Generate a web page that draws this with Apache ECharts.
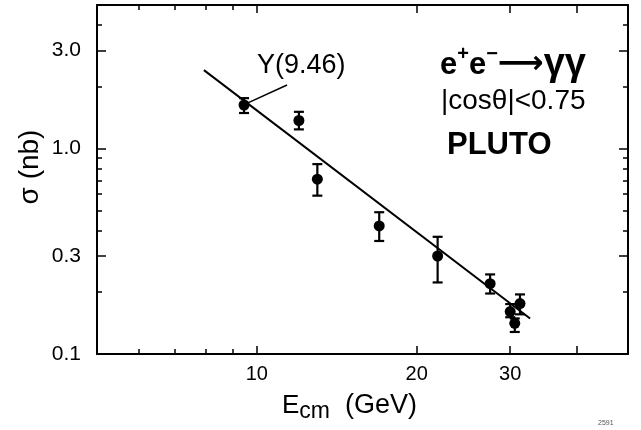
<!DOCTYPE html>
<html>
<head>
<meta charset="UTF-8">
<title>PLUTO e+e- -> gamma gamma</title>
<script src="https://cdn.jsdelivr.net/npm/echarts@6/dist/echarts.min.js"></script>
<style>
html, body { margin: 0; padding: 0; background: #fff; }
#main { width: 641px; height: 430px; }
</style>
</head>
<body>
<div id="main"></div>
<script>
// measured cross sections: E_cm (GeV), sigma (nb), error bar ends
var energy = [9.46, 12.0, 13.0, 17.0, 21.9, 27.5, 30.0, 30.6, 31.3];
var sigma = [1.63, 1.37, 0.71, 0.42, 0.30, 0.22, 0.161, 0.141, 0.176];
var sigmaLow = [1.49, 1.24, 0.59, 0.355, 0.223, 0.197, 0.151, 0.128, 0.156];
var sigmaHigh = [1.76, 1.51, 0.84, 0.49, 0.372, 0.244, 0.175, 0.149, 0.195];

// QED 1/s line, its two ends
var fitE = [7.95, 32.7];
var fitSigma = [2.41, 0.149];

// ticks and labels
var xMajor = [10, 20, 30, 40];
var xMinor = [6, 7, 8, 9];
var xLabels = [10, 20, 30];
var yMajor = [0.3, 1, 3];
var yMinor = [0.2, 0.4, 0.5, 0.6, 0.7, 0.8, 0.9, 2, 4];
var yLabels = [0.1, 0.3, 1, 3];

var FONT = 'Liberation Sans';
var NARROW = '"Liberation Sans Narrow", "Liberation Sans"';
var black = '#000';

var points = energy.map(function (e, i) { return [e, sigma[i]]; });
var bars = energy.map(function (e, i) { return [e, sigmaLow[i], sigmaHigh[i]]; });
var fit = fitE.map(function (e, i) { return [e, fitSigma[i]]; });

function xAxisDef(pos, ticks, len, showLine, labels) {
    return {
        type: 'log', logBase: 10, min: 5, max: 50, position: pos,
        axisLine: { show: showLine, lineStyle: { color: black, width: 2 } },
        axisTick: { show: true, inside: true, length: len, customValues: ticks,
            lineStyle: { color: black, width: 1.5 } },
        axisLabel: labels ? {
            show: true, customValues: labels, margin: 10, color: black,
            fontFamily: NARROW, fontSize: 20,
            formatter: function (v) { return String(Math.round(v)); }
        } : { show: false },
        splitLine: { show: false }, minorTick: { show: false }
    };
}

function yAxisDef(pos, ticks, len, showLine, labels) {
    return {
        type: 'log', logBase: 10, min: 0.1, max: 5, position: pos,
        axisLine: { show: showLine, lineStyle: { color: black, width: 2 } },
        axisTick: { show: true, inside: true, length: len, customValues: ticks,
            lineStyle: { color: black, width: 1.5 } },
        axisLabel: labels ? {
            show: true, customValues: labels, margin: 16, color: black,
            fontFamily: NARROW, fontSize: 21, padding: [4, 0, 0, 0],
            formatter: function (v) { return v >= 1 ? v.toFixed(1) : String(+v.toFixed(1)); }
        } : { show: false },
        splitLine: { show: false }, minorTick: { show: false }
    };
}

var chart = echarts.init(document.getElementById('main'));

chart.setOption({
    animation: false,
    backgroundColor: '#fff',
    grid: { left: 97, right: 13, top: 5, bottom: 76, containLabel: false, outerBoundsMode: 'none' },
    xAxis: [
        xAxisDef('bottom', xMajor, 8, true, xLabels),
        xAxisDef('bottom', xMinor, 5, false, null),
        xAxisDef('top', xMajor, 8, true, null),
        xAxisDef('top', xMinor, 5, false, null)
    ],
    yAxis: [
        yAxisDef('left', yMajor, 9, true, yLabels),
        yAxisDef('left', yMinor, 5, false, null),
        yAxisDef('right', yMajor, 9, true, null),
        yAxisDef('right', yMinor, 5, false, null)
    ],
    series: [
        {
            name: 'fit', type: 'line', data: fit, symbol: 'none',
            lineStyle: { color: black, width: 2 }, z: 2,
            markLine: {
                silent: true, symbol: 'none', label: { show: false },
                lineStyle: { color: black, width: 1.5, type: 'solid' },
                data: [[{ coord: [9.62, 1.67] }, { coord: [11.4, 2.04] }]]
            }
        },
        {
            name: 'errors', type: 'custom', data: bars,
            encode: { x: 0, y: [1, 2] }, z: 3,
            renderItem: function (params, api) {
                var lo = api.coord([api.value(0), api.value(1)]);
                var hi = api.coord([api.value(0), api.value(2)]);
                var w = 5;
                var st = { stroke: black, lineWidth: 2.2 };
                return {
                    type: 'group', children: [
                        { type: 'line', shape: { x1: hi[0], y1: hi[1], x2: lo[0], y2: lo[1] }, style: st },
                        { type: 'line', shape: { x1: hi[0] - w, y1: hi[1], x2: hi[0] + w, y2: hi[1] }, style: st },
                        { type: 'line', shape: { x1: lo[0] - w, y1: lo[1], x2: lo[0] + w, y2: lo[1] }, style: st }
                    ]
                };
            }
        },
        {
            name: 'PLUTO', type: 'scatter', data: points, symbol: 'circle', symbolSize: 11,
            itemStyle: { color: black, opacity: 1 }, z: 4
        }
    ],
    graphic: [
        {
            type: 'text', left: 257, top: 52,
            style: { text: 'Υ(9.46)', font: '27px "Liberation Sans"', fill: black }
        },
        {
            type: 'text', left: 440, top: 44,
            style: {
                text: '{e|e}{s|+}{e|e}{s|−}{a|⟶}{g|γγ}',
                fill: black,
                rich: {
                    e: { fontFamily: FONT, fontWeight: 'bold', fontSize: 31, lineHeight: 42, color: black },
                    s: { fontFamily: FONT, fontWeight: 'bold', fontSize: 20, lineHeight: 18, verticalAlign: 'top', color: black },
                    a: { fontFamily: 'DejaVu Sans', fontWeight: 'bold', fontSize: 32, lineHeight: 42, color: black },
                    g: { fontFamily: FONT, fontWeight: 'bold', fontSize: 38, lineHeight: 42, color: black }
                }
            }
        },
        {
            type: 'text', left: 441, top: 87,
            style: { text: '|cosθ|<0.75', font: '28px "Liberation Sans Narrow", "Liberation Sans"', fill: black }
        },
        {
            type: 'text', left: 447, top: 130,
            style: { text: 'PLUTO', font: 'bold 31px "Liberation Sans"', fill: black }
        },
        {
            type: 'text', x: 30, y: 167, rotation: Math.PI / 2,
            style: { text: 'σ (nb)', font: '28px "Liberation Sans"', fill: black,
                align: 'center', verticalAlign: 'middle' }
        },
        {
            type: 'text', left: 282, top: 392,
            style: {
                text: '{e|E}{c|cm}{u|  (GeV)}',
                fill: black,
                rich: {
                    e: { fontFamily: FONT, fontSize: 26, lineHeight: 36, color: black },
                    u: { fontFamily: FONT, fontSize: 27, lineHeight: 36, color: black },
                    c: { fontFamily: FONT, fontSize: 23, lineHeight: 20, verticalAlign: 'bottom', color: black }
                }
            }
        },
        {
            type: 'text', left: 598, top: 420,
            style: { text: '2591', font: '7px "Liberation Sans"', fill: '#555' }
        }
    ]
});
</script>
</body>
</html>
